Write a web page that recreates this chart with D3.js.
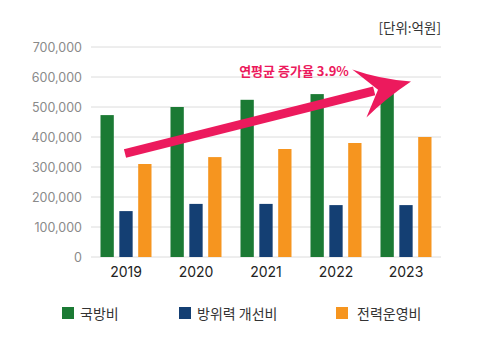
<!DOCTYPE html>
<html>
<head>
<meta charset="utf-8">
<script src="https://cdn.jsdelivr.net/npm/d3@7"></script>
<style>
  body { margin: 0; background: #fff; }
  svg { display: block; font-family: "Noto Sans CJK KR", "Noto Sans", sans-serif; }
</style>
</head>
<body>
<script>
// 연도별 국방비 구성 (단위: 억원)
var years = ["2019", "2020", "2021", "2022", "2023"];
var seriesNames = ["국방비", "방위력 개선비", "전력운영비"];
var defenseBudget = [473000, 500000, 524000, 543000, 565000];
var forceImprovement = [153000, 177000, 177000, 173000, 173000];
var forceOperation = [310000, 333000, 360000, 380000, 400000];
var yTicks = [0, 100000, 200000, 300000, 400000, 500000, 600000, 700000];
var colors = ["#1b7a34", "#143f73", "#f6951f"];
var growthLabel = "연평균 증가율 3.9%";
var unitLabel = "[단위:억원]";

var seriesValues = [defenseBudget, forceImprovement, forceOperation];

var W = 480, H = 346;
var margin = { top: 47, right: 39, bottom: 89, left: 91 };
var width = W - margin.left - margin.right;
var height = H - margin.top - margin.bottom;

var svg = d3.select("body").append("svg").attr("width", W).attr("height", H);
var g = svg.append("g").attr("transform", "translate(" + margin.left + "," + margin.top + ")");

var x = d3.scaleBand().domain(years).range([0, width]);
var y = d3.scaleLinear().domain([0, 700000]).range([height, 0]);

var barW = 12, barStep = 17;
var xs = d3.scaleBand().domain(seriesNames).range([-barStep * 1.5, barStep * 1.5]).paddingInner(5 / 17);

// 가로 눈금선
g.append("g")
    .selectAll("line")
    .data(yTicks)
    .enter().append("line")
    .attr("x1", 0).attr("x2", width)
    .attr("y1", function (d) { return y(d); })
    .attr("y2", function (d) { return y(d); })
    .attr("stroke", "#dcdcdc")
    .attr("stroke-width", 1);

// y축 라벨
var yAxis = g.append("g")
    .call(d3.axisLeft(y).tickValues(yTicks).tickSize(0).tickPadding(9).tickFormat(d3.format(",")));
yAxis.select(".domain").remove();
yAxis.selectAll("text")
    .attr("fill", "#8a8a8a")
    .style("font-size", "12.5px")
    .style("font-family", "Inter, 'Noto Sans CJK KR', sans-serif");

// 막대
var groups = g.selectAll(".year")
    .data(years)
    .enter().append("g")
    .attr("class", "year")
    .attr("transform", function (d) { return "translate(" + (x(d) + x.bandwidth() / 2) + ",0)"; });

groups.selectAll("rect")
    .data(function (d, i) {
        return seriesNames.map(function (s, k) { return { name: s, value: seriesValues[k][i], k: k }; });
    })
    .enter().append("rect")
    .attr("x", function (d) { return xs(d.name); })
    .attr("width", xs.bandwidth())
    .attr("y", function (d) { return y(d.value); })
    .attr("height", function (d) { return height - y(d.value); })
    .attr("fill", function (d) { return colors[d.k]; });

// x축 라벨
var xAxis = g.append("g")
    .attr("transform", "translate(0," + height + ")")
    .call(d3.axisBottom(x).tickSize(0).tickPadding(10));
xAxis.select(".domain").remove();
xAxis.selectAll("text")
    .attr("fill", "#222")
    .style("font-size", "14px")
    .style("font-family", "Inter, 'Noto Sans CJK KR', sans-serif");

// 증가 추세 화살표
var arrowColor = "#ec1a5d";
var x0 = x(years[0]) + x.bandwidth() / 2 - 1, y0 = y(345000);
var tipX = x(years[4]) + x.bandwidth() / 2 + 5, tipY = y(585000);
var ang = Math.atan2(tipY - y0, tipX - x0);
var headLen = 44;
var neckX = tipX - headLen * Math.cos(ang), neckY = tipY - headLen * Math.sin(ang);
var shaft = g.append("line")
    .attr("x1", x0).attr("y1", y0)
    .attr("x2", neckX + 6 * Math.cos(ang)).attr("y2", neckY + 6 * Math.sin(ang))
    .attr("stroke", arrowColor)
    .attr("stroke-width", 9);
// 화살촉: 끝점과 양 날개
function pt(along, side) {
    return [tipX + along * Math.cos(ang) - side * Math.sin(ang),
            tipY + along * Math.sin(ang) + side * Math.cos(ang)];
}
var wingA = pt(-54, -26), wingB = pt(-52, 24), notch = pt(-34, 0);
var head = d3.path();
head.moveTo(tipX, tipY);
head.quadraticCurveTo(pt(-30, -10)[0], pt(-30, -10)[1], wingA[0], wingA[1]);
head.quadraticCurveTo(pt(-40, -8)[0], pt(-40, -8)[1], notch[0], notch[1]);
head.quadraticCurveTo(pt(-40, 8)[0], pt(-40, 8)[1], wingB[0], wingB[1]);
head.quadraticCurveTo(pt(-28, 10)[0], pt(-28, 10)[1], tipX, tipY);
head.closePath();
g.append("path").attr("d", head.toString()).attr("fill", arrowColor);

// 증가율 주석
svg.append("text")
    .attr("x", 294).attr("y", 76)
    .attr("text-anchor", "middle")
    .attr("fill", arrowColor)
    .style("font-size", "13px")
    .style("font-weight", "bold")
    .text(growthLabel);

// 단위
svg.append("text")
    .attr("x", 441).attr("y", 33)
    .attr("text-anchor", "end")
    .attr("fill", "#333")
    .style("font-size", "13.5px")
    .text(unitLabel);

// 범례
var legendX = [62, 179, 336];
var legend = svg.append("g").selectAll("g")
    .data(seriesNames)
    .enter().append("g")
    .attr("transform", function (d, i) { return "translate(" + legendX[i] + ",307)"; });
legend.append("rect")
    .attr("width", 12).attr("height", 12)
    .attr("fill", function (d, i) { return colors[i]; });
legend.append("text")
    .attr("x", function (d, i) { return i === 2 ? 21 : 18; })
    .attr("y", 11.5)
    .attr("fill", "#333")
    .style("font-size", "14px")
    .text(function (d) { return d; });
</script>
</body>
</html>
